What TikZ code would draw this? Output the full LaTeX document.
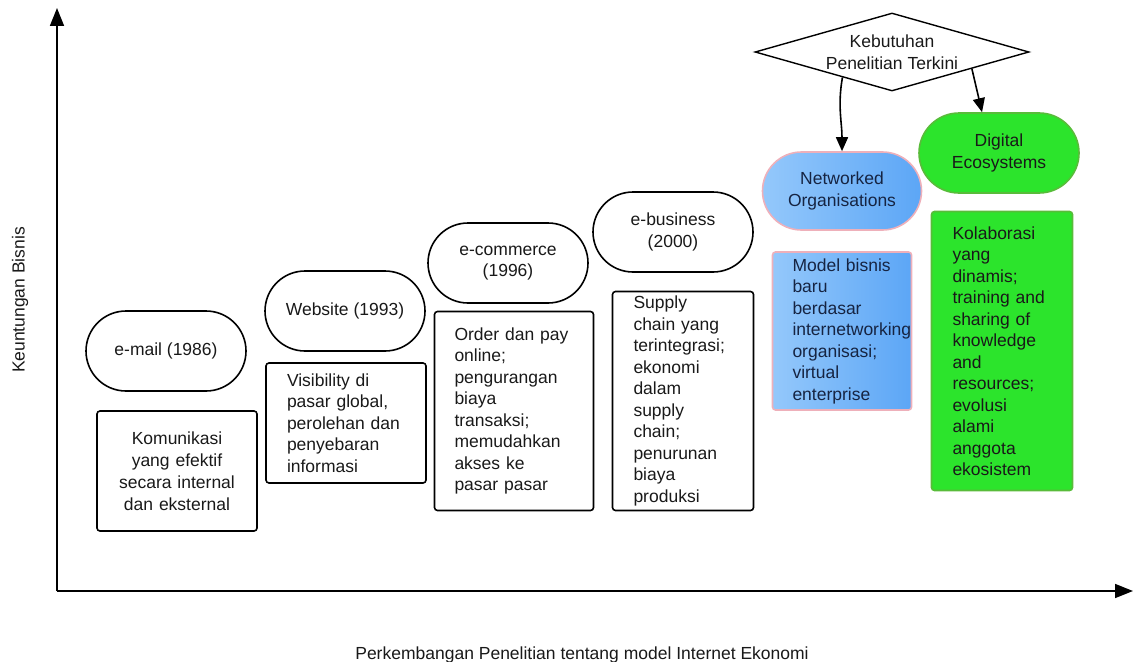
\documentclass[tikz,border=0pt]{standalone}
\usepackage{fontspec}
\setmainfont{Liberation Sans}
\usetikzlibrary{arrows.meta,shapes.geometric,calc}
\definecolor{inkgray}{RGB}{25,25,25}
\definecolor{netlight}{RGB}{148,200,251}
\definecolor{netdark}{RGB}{92,166,246}
\definecolor{netedge}{RGB}{238,176,186}
\definecolor{netink}{RGB}{22,36,66}
\definecolor{ecofill}{RGB}{44,228,44}
\definecolor{ecoedge}{RGB}{88,188,58}
\begin{document}
\begin{tikzpicture}[x=1pt,y=-1pt,>={Triangle[length=14pt,width=12pt]},
	txt/.style={font=\fontsize{17.5}{21.5}\selectfont,text=inkgray},
	era/.style={txt,draw,line width=1.6pt,rounded corners=40pt,minimum width=160pt,minimum height=80pt,align=center,inner sep=2pt},
	box/.style={txt,draw,line width=1.6pt,rounded corners=3pt,align=left,inner ysep=2pt,inner xsep=20pt}]
	\useasboundingbox (0,0) rectangle (1134,661);
	\coordinate (O) at (57,591);
	\coordinate (ytop) at (57,8);
	\coordinate (xend) at (1133,591);
	\draw[-{Triangle[length=18pt,width=14pt]},line width=1.6pt] (O)--(ytop);
	\draw[-{Triangle[length=18pt,width=14pt]},line width=1.6pt] (O)--(xend);
	\node[txt,rotate=90] (ylab) at (20,300) {Keuntungan Bisnis};
	\node[txt] (xlab) at (582,655) {Perkembangan Penelitian tentang model Internet Ekonomi};
	\node[era] (email) at (166,351) {e-mail (1986)};
	\node[era] (web) at (345,311) {Website (1993)};
	\node[era] (ecom) at (508,263) {e-commerce\\(1996)};
	\node[era] (ebis) at (673,232) {e-business\\(2000)};
	\node[era,draw=netedge,left color=netlight,right color=netdark,text=netink,minimum width=159pt,minimum height=78pt,rounded corners=39pt] (netorg) at (842,191) {Networked\\Organisations};
	\node[era,draw=ecoedge,fill=ecofill] (digeco) at (999,153) {Digital\\Ecosystems};
	\node[box,font=\fontsize{17.5}{22}\selectfont,align=center,text width=140pt,inner xsep=10pt,minimum height=120pt] (komun) at (177,471) {Komunikasi\\yang efektif\\secara internal\\dan eksternal};
	\node[box,text width=118pt,inner xsep=21pt,minimum height=120pt] (visib) at (346,423) {Visibility di\\pasar global,\\perolehan dan\\penyebaran\\informasi};
	\node[box,text width=119pt,minimum height=199pt] (order) at (514,411) {Order dan pay\\online;\\pengurangan\\biaya\\transaksi;\\memudahkan\\akses ke\\pasar pasar};
	\node[box,text width=99pt,inner xsep=21pt,minimum height=219pt] (supply) at (683,401) {Supply\\chain yang\\terintegrasi;\\ekonomi\\dalam\\supply\\chain;\\penurunan\\biaya\\produksi};
	\node[box,draw=netedge,left color=netlight,right color=netdark,text=netink,text width=99pt,minimum height=158pt] (model) at (842,331) {Model bisnis\\baru\\berdasar\\internetworking\\organisasi;\\virtual\\enterprise};
	\node[box,draw=ecoedge,fill=ecofill,text width=99pt,inner xsep=21pt,minimum height=279pt] (kolab) at (1002,351) {Kolaborasi\\yang\\dinamis;\\training and\\sharing of\\knowledge\\and\\resources;\\evolusi\\alami\\anggota\\ekosistem};
	\node[txt,diamond,draw,line width=1.4pt,aspect=3.5,inner sep=0pt,align=center,minimum width=274pt,minimum height=78pt] (need) at (892,52) {Kebutuhan\\Penelitian Terkini};
	\draw[->,line width=1.6pt] ($(need.south)!0.36!(need.west)$) to[out=-100,in=90] (netorg.north);
	\draw[->,line width=1.6pt] ($(need.south)!0.58!(need.east)$) -- ($(digeco.north)!0.21!(digeco.north west)$);
\end{tikzpicture}
\end{document}
